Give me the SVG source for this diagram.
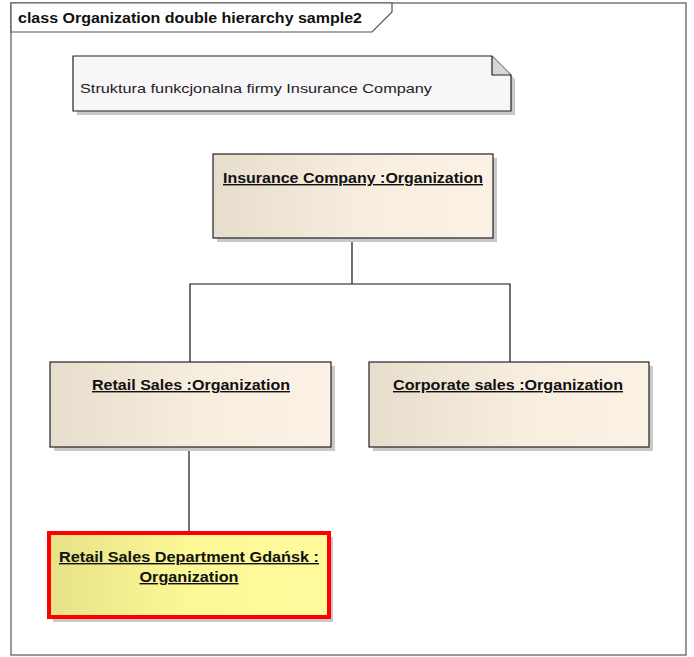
<svg xmlns="http://www.w3.org/2000/svg" width="694" height="657" viewBox="0 0 694 657">
  <defs>
    <linearGradient id="beige" x1="0" y1="0" x2="1" y2="0">
      <stop offset="0" stop-color="#e6ddcc"/>
      <stop offset="0.55" stop-color="#f8eee0"/>
      <stop offset="1" stop-color="#fbf1e4"/>
    </linearGradient>
    <linearGradient id="yellow" x1="0" y1="0" x2="1" y2="0">
      <stop offset="0" stop-color="#e6e287"/>
      <stop offset="0.5" stop-color="#fdf896"/>
      <stop offset="1" stop-color="#fffa9c"/>
    </linearGradient>
  </defs>
  <style>
    .frame { fill: #ffffff; stroke: #555555; stroke-width: 1.2; }
    .shadow { fill: #c9c9c9; }
    .box { fill: url(#beige); stroke: #222222; stroke-width: 1.2; }
    .hl { fill: url(#yellow); stroke: #ff0000; stroke-width: 4; }
    .note { fill: #f8f6f8; stroke: #222222; stroke-width: 1.2; }
    .fold { fill: #d8d6d8; stroke: #222222; stroke-width: 1.2; stroke-linejoin: round; }
    .title { font-family: "Liberation Sans", Arial, sans-serif; font-size: 14px; font-weight: bold; fill: #111111; }
    .label { font-family: "Liberation Sans", Arial, sans-serif; font-size: 14px; font-weight: bold; fill: #111111; text-anchor: middle; text-decoration: underline; }
    .notetext { font-family: "Liberation Sans", Arial, sans-serif; font-size: 13px; fill: #222222; }
    .conn { fill: none; stroke: #111111; stroke-width: 1.2; }
  </style>

  <!-- diagram frame with name tab -->
  <g id="frame">
    <rect class="frame" x="11" y="3" width="675" height="652"/>
    <path class="frame" d="M11,3 H392 V12 L372,32 H11 Z"/>
    <text class="title" x="18" y="23" textLength="344" lengthAdjust="spacingAndGlyphs">class Organization double hierarchy sample2</text>
  </g>

  <!-- note -->
  <g id="note">
    <path class="shadow" d="M77,60 H496 L515,79 V115 H77 Z"/>
    <path class="note" d="M73,56 H492 L511,75 V111 H73 Z"/>
    <path class="fold" d="M492,56 V75 H511"/>
    <text class="notetext" x="80" y="93" textLength="352" lengthAdjust="spacingAndGlyphs">Struktura funkcjonalna firmy Insurance Company</text>
  </g>

  <!-- connectors -->
  <g id="connectors">
    <path class="conn" d="M352,238 V284"/>
    <path class="conn" d="M190,362 V284 H510 V362"/>
    <path class="conn" d="M189,447 V531"/>
  </g>

  <g id="insurance-company">
    <rect class="shadow" x="217" y="158" width="280" height="84"/>
    <rect class="box" x="213" y="154" width="280" height="84"/>
    <text class="label" x="353" y="183" textLength="260" lengthAdjust="spacingAndGlyphs">Insurance Company :Organization</text>
  </g>

  <g id="retail-sales">
    <rect class="shadow" x="54" y="366" width="281" height="85"/>
    <rect class="box" x="50" y="362" width="281" height="85"/>
    <text class="label" x="191" y="390" textLength="198" lengthAdjust="spacingAndGlyphs">Retail Sales :Organization</text>
  </g>

  <g id="corporate-sales">
    <rect class="shadow" x="373" y="366" width="280" height="85"/>
    <rect class="box" x="369" y="362" width="280" height="85"/>
    <text class="label" x="508" y="390" textLength="230" lengthAdjust="spacingAndGlyphs">Corporate sales :Organization</text>
  </g>

  <g id="retail-sales-gdansk">
    <rect class="shadow" x="53" y="537" width="280" height="85"/>
    <rect class="hl" x="49" y="533" width="280" height="84"/>
    <text class="label" x="189" y="562" textLength="260" lengthAdjust="spacingAndGlyphs">Retail Sales Department Gdańsk :</text>
    <text class="label" x="189" y="582" textLength="99" lengthAdjust="spacingAndGlyphs">Organization</text>
  </g>
</svg>
